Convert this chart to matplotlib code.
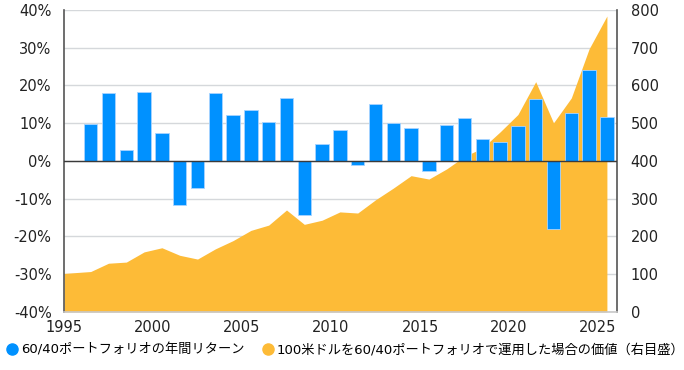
import matplotlib
matplotlib.use("Agg")
import matplotlib.pyplot as plt
from matplotlib.lines import Line2D

plt.rcParams["font.family"] = ["DejaVu Sans", "Noto Sans CJK JP"]

# annual return of the 60/40 portfolio (%), by year
years = [1996, 1997, 1998, 1999, 2000, 2001, 2002, 2003, 2004, 2005,
         2006, 2007, 2008, 2009, 2010, 2011, 2012, 2013, 2014, 2015,
         2016, 2017, 2018, 2019, 2020, 2021, 2022, 2023, 2024, 2025]
annual_return = [9.8, 18.0, 2.9, 18.3, 7.4, -11.8, -7.2, 18.0, 12.2, 13.5,
                 10.4, 16.7, -14.4, 4.4, 8.3, -1.1, 15.0, 10.1, 8.7, -2.6,
                 9.6, 11.3, 5.7, 5.0, 9.2, 16.3, -18.1, 12.8, 24.0, 11.7]

# value of 100 USD invested (right axis); first entry is the 1995 start
start_year = 1995
start_value = 102
portfolio_value = [107, 129, 132, 159, 170, 150, 140, 167, 189, 216,
                   230, 270, 232, 243, 265, 262, 297, 328, 361, 352,
                   379, 412, 434, 477, 523, 610, 501, 567, 697, 784]

left_ticks = [-40, -30, -20, -10, 0, 10, 20, 30, 40]
right_ticks = [0, 100, 200, 300, 400, 500, 600, 700, 800]
x_ticks = [1995, 2000, 2005, 2010, 2015, 2020, 2025]

label_return = "60/40ポートフォリオの年間リターン"
label_value = "100米ドルを60/40ポートフォリオで運用した場合の価値（右目盛）"

BLUE = "#0091ff"
ORANGE = "#fdbb37"
AXIS = "#555555"

fig = plt.figure(figsize=(6.84, 3.70), dpi=100)
ax = fig.add_axes([0.0936, 0.157, 0.808, 0.816])
ax2 = ax.twinx()

# area on the twin axis, drawn underneath the bars
ax.set_zorder(ax2.get_zorder() + 1)
ax.patch.set_visible(False)

mid = [y + 0.5 for y in years]
ax2.fill_between([start_year] + mid, [start_value] + portfolio_value, 0,
                 color=ORANGE, linewidth=0, zorder=2)
ax2.set_ylim(0, 800)
ax2.set_yticks(right_ticks)
ax2.set_yticklabels([str(t) for t in right_ticks])
ax2.grid(axis="y", color="#d5d8db", linewidth=1.0, zorder=0)
ax2.set_axisbelow(True)

ax.bar(mid, annual_return, width=0.75, color=BLUE, edgecolor="#a8d4ff",
       linewidth=0.6, zorder=3)
ax.axhline(0, color="#3a3a3a", linewidth=1.0, zorder=4)
ax.set_ylim(-40, 40)
ax.set_yticks(left_ticks)
ax.set_yticklabels([f"{t}%" for t in left_ticks])
ax.set_xlim(1995, 2026.05)
ax.set_xticks(x_ticks)
ax.set_xticklabels([str(t) for t in x_ticks])

for a in (ax, ax2):
    for s in a.spines.values():
        s.set_visible(False)
ax.spines["left"].set_visible(True)
ax.spines["right"].set_visible(True)
ax.spines["bottom"].set_visible(True)
ax.spines["left"].set_color(AXIS)
ax.spines["right"].set_color(AXIS)
ax.spines["bottom"].set_color("#c8c8c8")
for s in ("left", "right", "bottom"):
    ax.spines[s].set_linewidth(1.2)

ax.tick_params(axis="both", length=0, labelsize=10.5, colors="#222222")
ax.tick_params(axis="y", pad=9)
ax.tick_params(axis="x", pad=6)
ax2.tick_params(axis="y", length=0, labelsize=10.5, colors="#222222", pad=10)

handles = [
    Line2D([], [], marker="o", linestyle="none", markersize=8,
           markerfacecolor=BLUE, markeredgecolor=BLUE, label=label_return),
    Line2D([], [], marker="o", linestyle="none", markersize=8,
           markerfacecolor=ORANGE, markeredgecolor=ORANGE, label=label_value),
]
fig.legend(handles=handles, loc="lower left", bbox_to_anchor=(-0.005, 0.015),
           ncol=2, frameon=False, fontsize=9.5, handletextpad=0.05,
           columnspacing=1.2, handlelength=1.2, borderaxespad=0.2)

fig.savefig("out.png", dpi=100)
